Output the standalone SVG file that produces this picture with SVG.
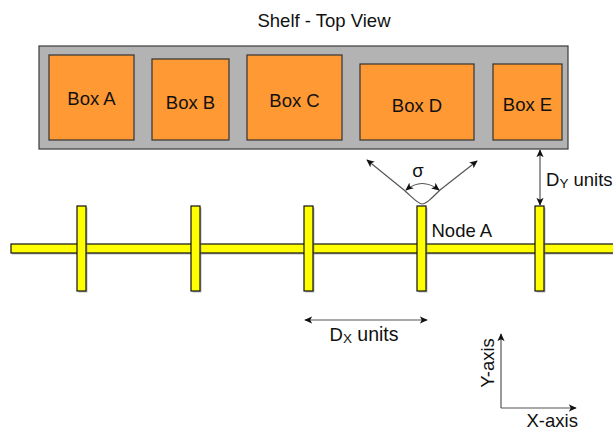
<svg xmlns="http://www.w3.org/2000/svg" width="613" height="429" viewBox="0 0 613 429">
  <defs>
    <style>
      .lbl { font-family: "Liberation Sans", Arial, sans-serif; font-size: 18.5px; fill: #111111; }
      .mid { text-anchor: middle; }
      .sub { font-size: 13.5px; }
      .shelf { fill: #b3b3b3; stroke: #3a3a3a; stroke-width: 1.2; }
      .box { fill: #ff9933; stroke: #333333; stroke-width: 1.2; }
      .rail { fill: #ffff00; stroke: #111111; stroke-width: 1.2; }
      .shadow { fill: #808080; opacity: 0.55; }
      .conn { fill: none; stroke: #555555; stroke-width: 1.2; }
    </style>
    <marker id="arrow" viewBox="0 0 10 10" refX="9" refY="5" markerWidth="8" markerHeight="8" markerUnits="userSpaceOnUse" orient="auto-start-reverse">
      <path d="M0,0.5 L10,5 L0,9.5 L2.5,5 Z" fill="#111111"/>
    </marker>
  </defs>

  <!-- title -->
  <text class="lbl mid" x="324" y="26.5">Shelf - Top View</text>

  <!-- shelf with boxes -->
  <g id="shelf">
    <rect class="shelf" x="39" y="46" width="529" height="103"/>
  </g>
  <g id="box-a">
    <rect class="box" x="49" y="55" width="85" height="85"/>
    <text class="lbl mid" x="91.5" y="105">Box A</text>
  </g>
  <g id="box-b">
    <rect class="box" x="152" y="59" width="77" height="81"/>
    <text class="lbl mid" x="190.5" y="109">Box B</text>
  </g>
  <g id="box-c">
    <rect class="box" x="247" y="55" width="95" height="85"/>
    <text class="lbl mid" x="294.5" y="107">Box C</text>
  </g>
  <g id="box-d">
    <rect class="box" x="360" y="64" width="114" height="76"/>
    <text class="lbl mid" x="417" y="112">Box D</text>
  </g>
  <g id="box-e">
    <rect class="box" x="493" y="64" width="69" height="76"/>
    <text class="lbl mid" x="527.5" y="110.5">Box E</text>
  </g>

  <!-- rail with posts -->
  <g id="rail">
    <rect class="shadow" x="12" y="245.5" width="605" height="9"/>
    <rect class="rail" x="11" y="244" width="606" height="9"/>
  </g>
  <g id="post-1">
    <rect class="shadow" x="78.5" y="207.5" width="9" height="85"/>
    <rect class="rail" x="77" y="206" width="9" height="85"/>
  </g>
  <g id="post-2">
    <rect class="shadow" x="192.5" y="207.5" width="9" height="85"/>
    <rect class="rail" x="191" y="206" width="9" height="85"/>
  </g>
  <g id="post-3">
    <rect class="shadow" x="305.5" y="207.5" width="9" height="85"/>
    <rect class="rail" x="304" y="206" width="9" height="85"/>
  </g>
  <g id="node-a">
    <rect class="shadow" x="418.5" y="207.5" width="9" height="85"/>
    <rect class="rail" x="417" y="206" width="9" height="85"/>
    <text class="lbl" x="431.5" y="236.5">Node A</text>
  </g>
  <g id="post-5">
    <rect class="shadow" x="536.5" y="207.5" width="9" height="85"/>
    <rect class="rail" x="535" y="206" width="9" height="85"/>
  </g>

  <!-- connectors and dimension arrows -->
  <g id="connectors">
    <path class="conn" d="M404,190 C414,199 418,204 422,204 C426,204 431,199 440,190" />
    <path class="conn" d="M404,190 L367,160" marker-end="url(#arrow)"/>
    <path class="conn" d="M440,190 L477,161" marker-end="url(#arrow)"/>
    <path class="conn" d="M406,190 Q422,177 439,190" marker-start="url(#arrow)" marker-end="url(#arrow)"/>
    <path class="conn" d="M540,150 L540,205" marker-start="url(#arrow)" marker-end="url(#arrow)"/>
    <path class="conn" d="M305,320 L427,320" marker-start="url(#arrow)" marker-end="url(#arrow)"/>
    <path class="conn" d="M501,408 L501,334" marker-end="url(#arrow)"/>
    <path class="conn" d="M501,408 L576,408" marker-end="url(#arrow)"/>
  </g>

  <!-- dimension labels -->
  <text class="lbl mid" x="418" y="177">σ</text>
  <text class="lbl" x="546" y="186">D<tspan class="sub" dy="2">Y</tspan><tspan dy="-2"> units</tspan></text>
  <text class="lbl" x="329.5" y="340.5">D<tspan class="sub" dy="2">X</tspan><tspan dy="-2" font-size="19.5px"> units</tspan></text>
  <text class="lbl" x="526.5" y="426.5">X-axis</text>
  <text class="lbl mid" transform="translate(493.5,363) rotate(-90)">Y-axis</text>
</svg>
